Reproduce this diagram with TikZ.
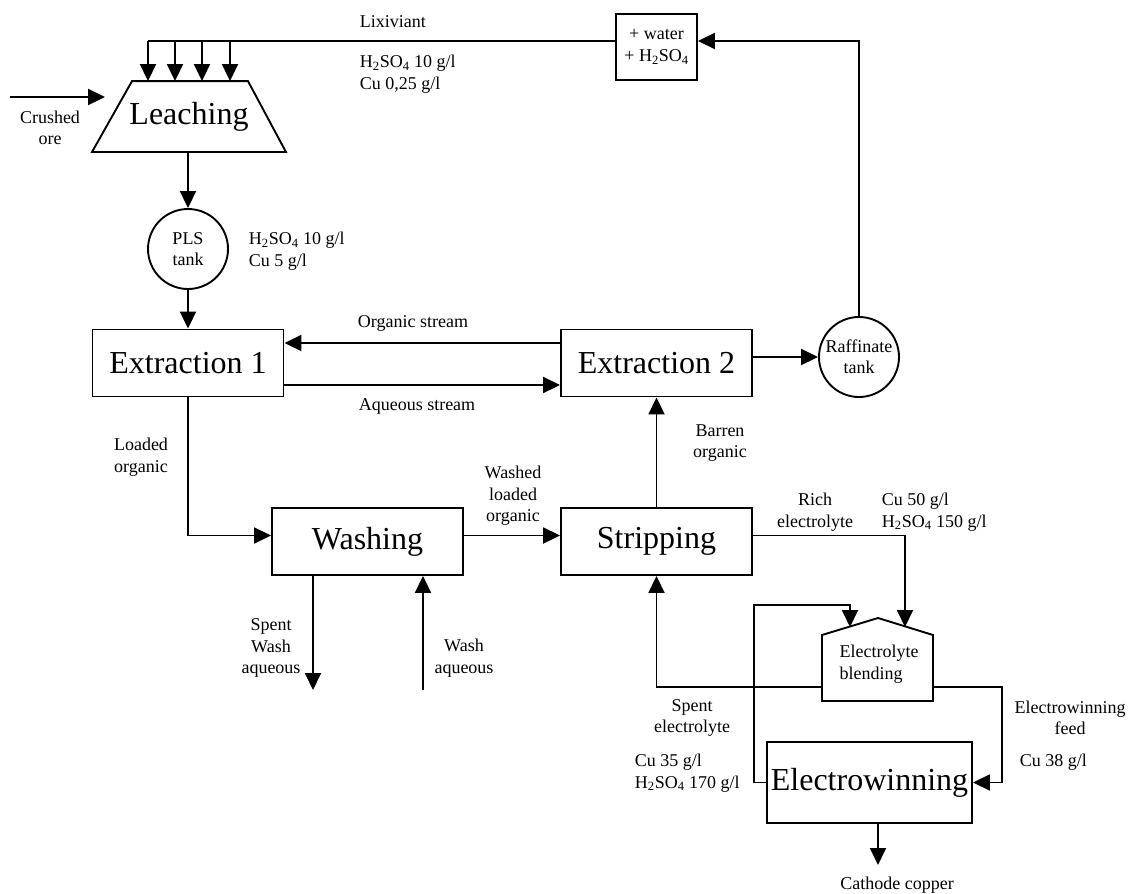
\documentclass[tikz,border=0pt]{standalone}
\usepackage{fontspec}
\setmainfont{Liberation Serif}
\usepackage{tikz}
\usetikzlibrary{arrows.meta}
\usetikzlibrary{shapes.geometric}
\usetikzlibrary{positioning}

\newcommand{\hso}{H\textsubscript{2}SO\textsubscript{4}}

\begin{document}
\begin{tikzpicture}[x=1pt, y=-1pt, line width=1.9pt,
  flow/.style={-{Triangle[length=17pt,width=16pt]}},
  unit/.style={rectangle, draw, minimum width=191pt, minimum height=67pt, inner sep=0pt, font=\fontsize{32}{36}\selectfont},
  tank/.style={circle, draw, minimum size=80pt, inner sep=0pt, align=center, font=\fontsize{18}{21}\selectfont},
  lbl/.style={inner sep=1pt, align=center, font=\fontsize{18}{21.5}\selectfont},
  conc/.style={lbl, align=left, anchor=west}]
 \useasboundingbox (0,0) rectangle (1130,894);

 % units
 \node [minimum width=192pt, minimum height=69pt, inner sep=0pt, font=\fontsize{32}{36}\selectfont] (leach) at (189,116.5) {Leaching};
 \draw [line join=miter] (leach.south west) -- ([xshift=40pt]leach.north west) -- ([xshift=-38pt]leach.north east) -- (leach.south east) -- cycle;
 \node [tank] (pls) at (188,249) {PLS\\tank};
 \node [unit] (ext1) at (188,363) {Extraction 1};
 \node [unit] (ext2) at (656.5,363) {Extraction 2};
 \node [tank] (raff) at (859,357) {Raffinate\\tank};
 \node [rectangle, draw, minimum width=81pt, minimum height=66pt, inner sep=0pt, align=center, font=\fontsize{18}{22}\selectfont] (mix) at (656.5,47) {+ water\\+ \hso};
 \node [unit] (wash) at (367.5,541.5) {Washing};
 \node [unit] (strip) at (656.5,541.5) {Stripping};
 \node [unit, minimum width=205pt, minimum height=81pt] (ew) at (869.5,782.5) {Electrowinning};

 % blending tank
 \draw [line join=miter] (822,701) -- (822,635) -- (878,618) -- (933,635) -- (933,701) -- cycle;
 \node [lbl, align=left] (blend) at (879,664) {Electrolyte\\blending};
 \coordinate (roofL) at (850,627);
 \coordinate (roofR) at (905,627);
 \coordinate (blendW) at (822,687);
 \coordinate (blendE) at (933,687);

 % lixiviant feed
 \foreach \x [count=\i] in {148,175,202,230} {
  \coordinate (tap\i) at (\x,41);
  \draw [flow] (tap\i) -- (tap\i |- leach.north);
 }
 \draw (tap1) -- (mix.west |- tap1);
 \draw [flow] (raff.north) |- (mix.east |- tap1);
 \node [conc] (lix) at (358,22) {Lixiviant};
 \node [conc] (lixconc) at (358,74) {\hso{} 10 g/l\\Cu 0,25 g/l};

 % ore
 \coordinate (ore) at (10,97);
 \draw [flow, shorten >=-13pt] (ore) -- (ore -| leach.west);
 \node [lbl] (orelbl) at (50,128) {Crushed\\ore};

 % leaching and extraction
 \draw [flow] (pls.north |- leach.south) -- (pls.north);
 \node [conc] (plsconc) at (247,251) {\hso{} 10 g/l\\Cu 5 g/l};
 \draw [flow] (pls.south) -- (ext1.north);
 \draw [flow] ([yshift=20pt]ext2.west) -- ([yshift=20pt]ext1.east);
 \draw [flow] ([yshift=-22pt]ext1.east) -- ([yshift=-22pt]ext2.west);
 \node [lbl] (orglbl) at (413,323) {Organic stream};
 \node [lbl] (aqlbl) at (417,406) {Aqueous stream};
 \draw [flow] (raff.west -| ext2.east) -- (raff.west);

 % washing and stripping
 \draw [flow] (ext1.south) |- ([yshift=6pt]wash.west);
 \node [lbl] (loadlbl) at (141,457) {Loaded\\organic};
 \draw [flow] ([yshift=6pt]wash.east) -- ([yshift=6pt]strip.west);
 \node [lbl] (washlbl) at (513,496) {Washed\\loaded\\organic};
 \draw [flow] (strip.north) -- (ext2.south);
 \node [lbl] (barlbl) at (720,443) {Barren\\organic};
 \coordinate (spentwash) at (313,690);
 \draw [flow] (spentwash |- wash.south) -- (spentwash);
 \node [lbl] (spwlbl) at (271,648) {Spent\\Wash\\aqueous};
 \coordinate (washin) at (423,690);
 \draw [flow] (washin) -- (washin |- wash.south);
 \node [lbl] (wailbl) at (464,658) {Wash\\aqueous};

 % electrolyte circuit
 \draw [flow] ([yshift=6pt]strip.east) -| (roofR);
 \node [lbl] (richlbl) at (815,512) {Rich\\electrolyte};
 \node [conc] (richconc) at (880,512) {Cu 50 g/l\\\hso{} 150 g/l};
 \draw [flow] (blendW) -| (strip.south);
 \node [lbl] (spelbl) at (692,718) {Spent\\electrolyte};
 \node [conc] (speconc) at (633,773) {Cu 35 g/l\\\hso{} 170 g/l};
 \coordinate (loop) at (754,605);
 \draw [flow] (ew.west) -| (loop) -| (roofL);
 \coordinate (feed) at (1002,687);
 \draw [flow] (blendE) -- (feed) |- (ew.east);
 \node [lbl] (feedlbl) at (1070,718) {Electrowinning\\feed};
 \node [conc] (feedconc) at (1018,762) {Cu 38 g/l};
 \coordinate (cu) at (878,865);
 \draw [flow] (cu |- ew.south) -- (cu);
 \node [lbl] (culbl) at (897,885) {Cathode copper};
\end{tikzpicture}
\end{document}
